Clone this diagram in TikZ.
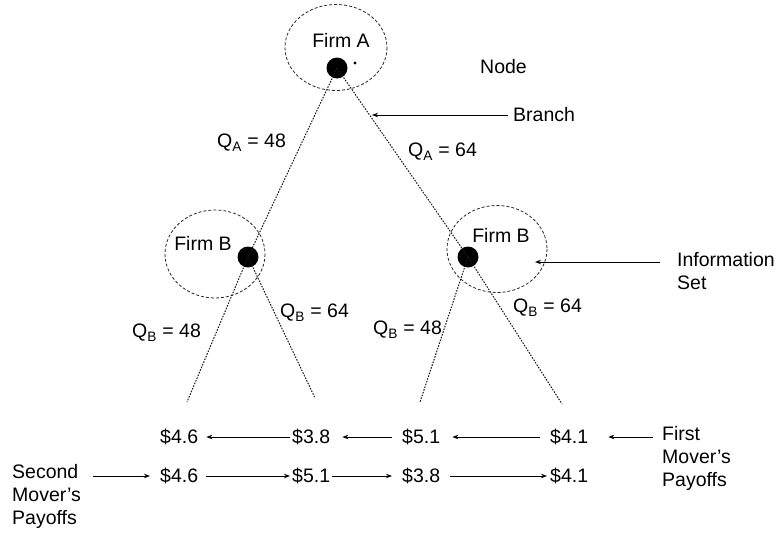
\documentclass[tikz,border=0pt]{standalone}
\usepackage{fontspec}
\setmainfont{Liberation Sans}
\usetikzlibrary{arrows.meta}
\begin{document}
\begin{tikzpicture}[x=1pt,y=-1pt,
  every node/.style={font=\fontsize{19.5}{23}\selectfont, inner sep=0pt},
  decision/.style={circle, fill=black, minimum size=21pt, inner sep=0pt},
  infoset/.style={draw=black!85, line width=0.8pt, dash pattern=on 3pt off 2pt},
  branch/.style={draw=black!90, line width=1pt, dash pattern=on 1.6pt off 1.3pt},
  pointer/.style={draw=black, line width=1pt, -{Stealth[length=6pt,width=4.5pt]}},
  payoff/.style={anchor=west},
  note/.style={anchor=west, align=left}]
\useasboundingbox (0,0) rectangle (780,533);

% information sets
\draw[infoset] (336,47.5) ellipse [x radius=51, y radius=43];
\draw[infoset] (215,254) ellipse [x radius=50, y radius=44];
\draw[infoset] (497,249) ellipse [x radius=50, y radius=43.5];

% decision nodes
\node[decision] (A)  at (337,68) {};
\node[decision] (B1) at (248,257) {};
\node[decision] (B2) at (468,257) {};
\fill (355,63) circle [radius=1.6];

\node (lA)  at (341,40) {Firm A};
\node (lB1) at (203,243) {Firm B};
\node (lB2) at (501,235) {Firm B};

% terminal ends of the branches
\coordinate (t1) at (187,402);
\coordinate (t2) at (315,398);
\coordinate (t3) at (420,402);
\coordinate (t4) at (562,404);

% branches
\draw[branch] (A.center) -- (B1.center);
\draw[branch] (A.center) -- (B2.center);
\draw[branch] (B1.center) -- (t1);
\draw[branch] (B1.center) -- (t2);
\draw[branch] (B2.center) -- (t3);
\draw[branch] (B2.center) -- (t4);

% branch labels
\node[anchor=west] (qa1) at (217,143) {Q\textsubscript{A} = 48};
\node[anchor=west] (qa2) at (408,152) {Q\textsubscript{A} = 64};
\node[anchor=west] (qb1) at (132,333) {Q\textsubscript{B} = 48};
\node[anchor=west] (qb2) at (280,313) {Q\textsubscript{B} = 64};
\node[anchor=west] (qb3) at (373,330) {Q\textsubscript{B} = 48};
\node[anchor=west] (qb4) at (513,308) {Q\textsubscript{B} = 64};

% annotations
\node[anchor=west] (node) at (480,67) {Node};
\node[anchor=west] (branchlbl) at (513,115) {Branch};
\coordinate (branchtip) at (372,115);
\draw[pointer, shorten <=5pt] (branchlbl.west) -- (branchtip);

\node[note] (info) at (677,271) {Information\\Set};
\coordinate (infotip) at (535,262);
\draw[pointer, shorten <=17pt] (info.west |- infotip) -- (infotip);

% payoffs
\node[payoff] (p11) at (160,437) {\$4.6};
\node[payoff] (p12) at (292,437) {\$3.8};
\node[payoff] (p13) at (402,437) {\$5.1};
\node[payoff] (p14) at (550,437) {\$4.1};
\node[payoff] (p21) at (160,476) {\$4.6};
\node[payoff] (p22) at (292,476) {\$5.1};
\node[payoff] (p23) at (402,476) {\$3.8};
\node[payoff] (p24) at (550,476) {\$4.1};

\node[note, anchor=north west] (first) at (662,426) {First\\Mover's\\Payoffs};
\node[note, anchor=north west] (second) at (12,464) {Second\\Mover's\\Payoffs};

% first mover's payoffs: arrows to the left
\draw[pointer, shorten <=2pt, shorten >=8pt] (p12.west) -- (p11.east);
\draw[pointer, shorten <=10pt, shorten >=12pt] (p13.west) -- (p12.east);
\draw[pointer, shorten <=10pt, shorten >=12pt] (p14.west) -- (p13.east);
\draw[pointer, shorten <=9pt, shorten >=20pt] (first.west |- p14) -- (p14.east);

% second mover's payoffs: arrows to the right
\draw[pointer, shorten <=81pt, shorten >=10pt] (second.west |- p21) -- (p21.west);
\draw[pointer, shorten <=8pt, shorten >=2pt] (p21.east) -- (p22.west);
\draw[pointer, shorten <=2pt, shorten >=10pt] (p22.east) -- (p23.west);
\draw[pointer, shorten <=10pt, shorten >=3pt] (p23.east) -- (p24.west);
\end{tikzpicture}
\end{document}
